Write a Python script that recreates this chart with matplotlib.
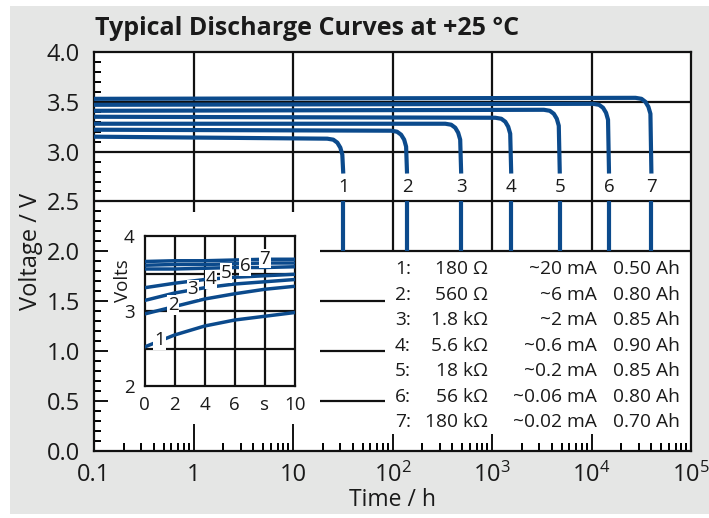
import matplotlib
matplotlib.use('Agg')
import matplotlib.pyplot as plt
from matplotlib.patches import Rectangle
import matplotlib.transforms as mtransforms
from matplotlib.ticker import FixedLocator, NullFormatter, MultipleLocator

plt.rcParams['font.family'] = ['Open Sans', 'DejaVu Sans']
plt.rcParams['mathtext.fontset'] = 'custom'
plt.rcParams['mathtext.rm'] = 'Open Sans'

# ---------------- data ----------------
title = "Typical Discharge Curves at +25 °C"
curve_ids = ['1', '2', '3', '4', '5', '6', '7']
end_times = [32, 140, 490, 1560, 4800, 15000, 40000]   # h

main_t = [
    [0.1, 22.1, 25.4, 27.9, 29.9, 31.3, 32],
    [0.1, 96.9, 111, 122, 131, 137, 140],
    [0.1, 339, 389, 427, 457, 479, 490],
    [0.1, 1080, 1240, 1360, 1455, 1524, 1560],
    [0.1, 3320, 3810, 4180, 4480, 4690, 4800],
    [0.1, 10380, 11910, 13070, 14000, 14660, 15000],
    [0.1, 27700, 31800, 34800, 37300, 39100, 40000],
]
main_v = [
    [3.15, 3.13, 3.12, 3.09, 3.04, 2.97, 2.78],
    [3.22, 3.21, 3.20, 3.17, 3.12, 3.05, 2.78],
    [3.28, 3.28, 3.27, 3.24, 3.19, 3.12, 2.78],
    [3.35, 3.34, 3.33, 3.30, 3.25, 3.18, 2.78],
    [3.41, 3.42, 3.41, 3.38, 3.33, 3.26, 2.78],
    [3.47, 3.48, 3.47, 3.44, 3.39, 3.32, 2.78],
    [3.53, 3.54, 3.53, 3.50, 3.45, 3.38, 2.78],
]
lower_v = [2.50, 2.0]
label_v = 2.64

inset_s = [0, 2, 4, 6, 8, 10]
inset_v = [
    [2.52, 2.68, 2.80, 2.88, 2.93, 2.98],
    [2.96, 3.06, 3.16, 3.23, 3.29, 3.33],
    [3.14, 3.24, 3.31, 3.36, 3.39, 3.42],
    [3.31, 3.37, 3.42, 3.45, 3.47, 3.49],
    [3.56, 3.56, 3.57, 3.58, 3.58, 3.59],
    [3.61, 3.62, 3.62, 3.63, 3.64, 3.64],
    [3.66, 3.67, 3.67, 3.68, 3.69, 3.69],
]
inset_label_s = [1.0, 1.9, 3.2, 4.4, 5.4, 6.7, 8.0]
inset_label_v = [2.61, 3.08, 3.29, 3.42, 3.51, 3.60, 3.70]

resistances = ['180 Ω', '560 Ω', '1.8 kΩ', '5.6 kΩ', '18 kΩ', '56 kΩ', '180 kΩ']
currents = ['~20 mA', '~6 mA', '~2 mA', '~0.6 mA', '~0.2 mA', '~0.06 mA', '~0.02 mA']
capacities = ['0.50 Ah', '0.80 Ah', '0.85 Ah', '0.90 Ah', '0.85 Ah', '0.80 Ah', '0.70 Ah']

xticks = [0.1, 1, 10, 100, 1000, 1e4, 1e5]
xticklabels = ['0.1', '1', '10', r'$\mathregular{10^2}$', r'$\mathregular{10^3}$',
               r'$\mathregular{10^4}$', r'$\mathregular{10^5}$']
yticks = [0.0, 0.5, 1.0, 1.5, 2.0, 2.5, 3.0, 3.5, 4.0]
inset_xticks = [0, 2, 4, 6, 8, 10]
inset_xticklabels = ['0', '2', '4', '6', 's', '10']
inset_yticks = [2, 3, 4]

BLUE = '#0b4a8c'
BLACK = '#111111'
TXT = '#1a1a1a'

# ---------------- figure ----------------
fig = plt.figure(figsize=(7.09, 5.18), dpi=100, facecolor='white')
fig.patches.append(Rectangle((10 / 709, 4 / 518), 1, 1 - 10 / 518, transform=fig.transFigure,
                             facecolor='#e5e6e5', edgecolor='none', zorder=-10))

ax = fig.add_axes([94 / 709, 1 - 450.5 / 518, 597 / 709, 398.5 / 518])
ax.set_facecolor('white')
ax.set_xscale('log')
ax.set_xlim(0.1, 1e5)
ax.set_ylim(0, 4)

# grid pieces
glw = 1.6
for x in [1, 10]:
    ax.vlines(x, 2.39, 4.0, color=BLACK, lw=glw, zorder=1)
for x in [100, 1000, 1e4]:
    ax.vlines(x, 2.0, 4.0, color=BLACK, lw=glw, zorder=1)
for y in [2.5, 3.0, 3.5]:
    ax.hlines(y, 0.1, 1e5, color=BLACK, lw=glw, zorder=1)
ax.hlines(2.0, 18.5, 1e5, color=BLACK, lw=glw, zorder=1)
for y in [0.5, 1.0, 1.5]:
    ax.hlines(y, 18.5, 84, color=BLACK, lw=glw, zorder=1)

# curves
for cid, t, v, T in zip(curve_ids, main_t, main_v, end_times):
    ax.plot(t, v, color=BLUE, lw=3.0, solid_capstyle='butt', solid_joinstyle='round', zorder=3)
    ax.plot([T, T], lower_v, color=BLUE, lw=3.0, solid_capstyle='butt', zorder=3)
    ax.text(T, label_v, cid, ha='center', va='center', fontsize=13.5, color=TXT, zorder=4)

# axes styling
for s in ax.spines.values():
    s.set_linewidth(1.6)
    s.set_color(BLACK)
ax.set_xticks(xticks)
ax.set_xticklabels(xticklabels)
ax.xaxis.set_minor_locator(FixedLocator([m * 10.0 ** e for e in range(-1, 5) for m in range(2, 10)]))
ax.xaxis.set_minor_formatter(NullFormatter())
ax.set_yticks(yticks)
ax.set_yticklabels([f'{y:.1f}' for y in yticks])
ax.yaxis.set_minor_locator(MultipleLocator(0.1))
ax.tick_params(axis='x', which='major', direction='in', length=12, width=1.4, pad=9,
               labelsize=17, colors=BLACK, labelcolor=TXT)
ax.tick_params(axis='x', which='minor', direction='in', length=6, width=1.4)
ax.tick_params(axis='y', which='major', direction='in', length=10, width=1.4, pad=10,
               labelsize=17, colors=BLACK, labelcolor=TXT)
ax.tick_params(axis='y', which='minor', direction='in', length=5, width=1.4)
for i, tk in enumerate(ax.xaxis.get_major_ticks()):
    if xticks[i] in (1, 10):
        tk.tick1line.set_markersize(19.5)
ax.set_xlabel('Time / h', fontsize=16.5, labelpad=0, color=TXT)
ax.set_ylabel('Voltage / V', fontsize=17, labelpad=3, color=TXT)

fig.text(95 / 709, 1 - 35 / 518, title, fontsize=18, fontweight='bold', ha='left', va='baseline',
         color=TXT)

# legend table
trans = mtransforms.blended_transform_factory(ax.transAxes, ax.transData)
for i in range(7):
    yv = 1.82 - 0.256 * i
    kw = dict(transform=trans, va='center', fontsize=13.8, color=TXT, zorder=4)
    ax.text(0.504, yv, curve_ids[i] + ':', ha='left', **kw)
    ax.text(0.660, yv, resistances[i], ha='right', **kw)
    ax.text(0.8425, yv, currents[i], ha='right', **kw)
    ax.text(0.869, yv, capacities[i], ha='left', **kw)

# ---------------- inset ----------------
axin = fig.add_axes([144.5 / 709, 1 - 386 / 518, 150.5 / 709, 150 / 518])
axin.set_facecolor('white')
axin.set_xlim(0, 10)
axin.set_ylim(2, 4)
for x in [2, 4, 6, 8]:
    axin.axvline(x, color=BLACK, lw=1.6, zorder=1)
for y in [2.5, 3.0, 3.5]:
    axin.axhline(y, color=BLACK, lw=1.6, zorder=1)
for cid, v in zip(curve_ids, inset_v):
    axin.plot(inset_s, v, color=BLUE, lw=2.5, solid_capstyle='butt', zorder=3)
for cid, sx, sv in zip(curve_ids, inset_label_s, inset_label_v):
    axin.text(sx, sv, cid, ha='center', va='center', fontsize=13.5, color=TXT, zorder=5,
              bbox=dict(facecolor='white', edgecolor='none', pad=0.6))
for s in axin.spines.values():
    s.set_linewidth(1.6)
    s.set_color(BLACK)
axin.set_xticks(inset_xticks)
axin.set_xticklabels(inset_xticklabels)
axin.set_yticks(inset_yticks)
axin.set_yticklabels([str(y) for y in inset_yticks])
axin.tick_params(length=0, labelsize=13.5, pad=7, colors=TXT)
axin.text(-0.14, 0.70, 'Volts', transform=axin.transAxes, rotation=90, ha='center', va='center',
          fontsize=13.5, color=TXT)

fig.savefig('out.png', dpi=100, facecolor=fig.get_facecolor())
